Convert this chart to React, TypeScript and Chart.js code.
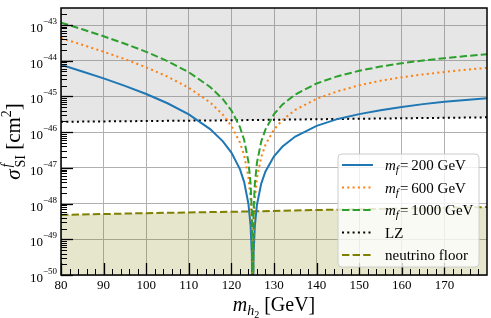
import React, { useEffect, useRef } from 'react';
import { Chart, registerables } from 'chart.js';

Chart.register(...registerables);

// ---- data ----
const masses = [80, 85, 90, 95, 100, 105, 110, 115, 118, 120, 122, 123, 124, 124.5, 124.8, 125, 125.2, 125.5, 126, 127, 128, 130, 132, 135, 140, 145, 150, 155, 160, 165, 170, 175, 180];
const sigma200 = [7.70e-45, 5.01e-45, 3.20e-45, 1.98e-45, 1.17e-45, 6.45e-46, 3.14e-46, 1.22e-46, 5.54e-47, 2.68e-47, 9.21e-48, 3.99e-48, 9.77e-49, 2.40e-49, 3.80e-50, 1e-52, 3.76e-50, 2.34e-49, 9.27e-49, 3.62e-48, 7.95e-48, 2.11e-47, 3.95e-47, 7.55e-47, 1.50e-46, 2.35e-46, 3.20e-46, 4.10e-46, 5.10e-46, 6.10e-46, 7.10e-46, 8.00e-46, 8.90e-46];
const sigma600 = [4.30e-44, 2.80e-44, 1.79e-44, 1.11e-44, 6.54e-45, 3.60e-45, 1.75e-45, 6.81e-46, 3.09e-46, 1.49e-46, 5.14e-47, 2.23e-47, 5.45e-48, 1.34e-48, 2.12e-49, 1e-52, 2.10e-49, 1.31e-48, 5.17e-48, 2.02e-47, 4.44e-47, 1.18e-46, 2.21e-46, 4.21e-46, 8.60e-46, 1.40e-45, 2.05e-45, 2.75e-45, 3.45e-45, 4.15e-45, 4.85e-45, 5.60e-45, 6.30e-45];
const sigma1000 = [1.17e-43, 7.59e-44, 4.84e-44, 3.00e-44, 1.78e-44, 9.77e-45, 4.76e-45, 1.85e-45, 8.38e-46, 4.06e-46, 1.39e-46, 6.04e-47, 1.48e-47, 3.63e-48, 5.75e-49, 1e-52, 5.70e-49, 3.55e-48, 1.40e-47, 5.48e-47, 1.20e-46, 3.19e-46, 5.99e-46, 1.14e-45, 2.31e-45, 3.70e-45, 5.24e-45, 6.86e-45, 8.52e-45, 1.02e-44, 1.18e-44, 1.35e-44, 1.52e-44];
const lzMass = [80, 100, 120, 140, 160, 180];
const lzLimit = [1.95e-46, 2.05e-46, 2.15e-46, 2.3e-46, 2.45e-46, 2.6e-46];
const nuMass = [80, 100, 120, 140, 160, 180];
const nuFloor = [4.8e-49, 5.4e-49, 5.9e-49, 6.6e-49, 7.3e-49, 8.0e-49];
const xTicks = [80, 90, 100, 110, 120, 130, 140, 150, 160, 170];
const yTickExps = [-50, -49, -48, -47, -46, -45, -44, -43];
const mfLabels = ['200 GeV', '600 GeV', '1000 GeV'];
const otherLabels = ['LZ', 'neutrino floor'];

const X_MIN = 80, X_MAX = 180, Y_MIN = 1e-50, Y_MAX = 3e-43;

const SERIF = '"Liberation Serif", "DejaVu Serif", serif';
const f = (size: number, italic = false) => `${italic ? 'italic ' : ''}${size}px ${SERIF}`;

type Seg = { t: string; font: string; dy?: number; adv?: number; dx?: number };

function segsWidth(ctx: CanvasRenderingContext2D, segs: Seg[]) {
  let w = 0;
  for (const s of segs) {
    ctx.font = s.font;
    w += (s.dx || 0) + (s.adv !== undefined ? s.adv : ctx.measureText(s.t).width);
  }
  return w;
}
function drawSegs(ctx: CanvasRenderingContext2D, segs: Seg[], x: number, y: number) {
  let cx = x;
  for (const s of segs) {
    ctx.font = s.font;
    cx += s.dx || 0;
    ctx.fillText(s.t, cx, y + (s.dy || 0));
    cx += s.adv !== undefined ? s.adv : ctx.measureText(s.t).width;
  }
}

const decoPlugin = {
  id: 'deco',
  afterDraw(chart: any) {
    const { ctx, chartArea: a, scales } = chart;
    const xs = scales.x, ys = scales.y;
    ctx.save();
    ctx.fillStyle = '#000';
    ctx.strokeStyle = '#000';
    ctx.textBaseline = 'alphabetic';

    // spines
    ctx.lineWidth = 1.5;
    ctx.strokeRect(a.left, a.top, a.right - a.left, a.bottom - a.top);

    // x ticks (inward)
    for (const v of xTicks) {
      const px = Math.round(xs.getPixelForValue(v)) + 0.5;
      ctx.lineWidth = 1.3;
      ctx.beginPath(); ctx.moveTo(px, a.bottom); ctx.lineTo(px, a.bottom - 12); ctx.stroke();
    }
    for (let v = X_MIN + 2; v < X_MAX; v += 2) {
      if (v % 10 === 0) continue;
      const px = Math.round(xs.getPixelForValue(v)) + 0.5;
      ctx.lineWidth = 1;
      ctx.beginPath(); ctx.moveTo(px, a.bottom); ctx.lineTo(px, a.bottom - 6); ctx.stroke();
    }
    // y ticks
    for (const e of yTickExps) {
      const py = Math.round(ys.getPixelForValue(Math.pow(10, e))) + 0.5;
      ctx.lineWidth = 1.3;
      ctx.beginPath(); ctx.moveTo(a.left, py); ctx.lineTo(a.left + 12, py); ctx.stroke();
      for (let k = 2; k <= 9; k++) {
        const v = k * Math.pow(10, e);
        if (v > Y_MAX) break;
        const pm = Math.round(ys.getPixelForValue(v)) + 0.5;
        ctx.lineWidth = 1;
        ctx.beginPath(); ctx.moveTo(a.left, pm); ctx.lineTo(a.left + 6, pm); ctx.stroke();
      }
    }

    // x tick labels
    ctx.font = f(13);
    ctx.textAlign = 'center';
    for (const v of xTicks) {
      ctx.fillText(String(v), xs.getPixelForValue(v), a.bottom + 14);
    }
    // y tick labels
    ctx.textAlign = 'left';
    for (const e of yTickExps) {
      const py = ys.getPixelForValue(Math.pow(10, e));
      const segs: Seg[] = [
        { t: '10', font: f(13) },
        { t: '\u2212' + Math.abs(e), font: f(9), dy: -8 },
      ];
      const w = segsWidth(ctx, segs);
      drawSegs(ctx, segs, a.left - 4 - w, py + 7);
    }

    // x title
    const xt: Seg[] = [
      { t: 'm', font: f(20, true) },
      { t: 'h', font: f(14, true), dy: 4 },
      { t: '2', font: f(10), dy: 7 },
      { t: ' [GeV]', font: f(20) },
    ];
    const xw = segsWidth(ctx, xt);
    drawSegs(ctx, xt, (a.left + a.right) / 2 - xw / 2, 311);

    // y title (rotated)
    ctx.save();
    ctx.translate(20, (a.top + a.bottom) / 2);
    ctx.rotate(-Math.PI / 2);
    ctx.font = f(14);
    const siW = ctx.measureText('SI').width;
    const yt: Seg[] = [
      { t: '\u03C3', font: f(21, true) },
      { t: 'f', font: f(14, true), dy: -9, adv: 0, dx: 2 },
      { t: 'SI', font: f(14), dy: 5, adv: siW },
      { t: ' [cm', font: f(21) },
      { t: '2', font: f(14), dy: -9 },
      { t: ']', font: f(21) },
    ];
    const yw = segsWidth(ctx, yt);
    drawSegs(ctx, yt, -yw / 2, 0);
    ctx.restore();

    // legend
    const bx = 338, by = 154, bw = 141, bh = 113, r = 4;
    ctx.beginPath();
    ctx.moveTo(bx + r, by);
    ctx.arcTo(bx + bw, by, bx + bw, by + bh, r);
    ctx.arcTo(bx + bw, by + bh, bx, by + bh, r);
    ctx.arcTo(bx, by + bh, bx, by, r);
    ctx.arcTo(bx, by, bx + bw, by, r);
    ctx.closePath();
    ctx.fillStyle = 'rgba(255,255,255,0.8)';
    ctx.fill();
    ctx.strokeStyle = '#cccccc';
    ctx.lineWidth = 1;
    ctx.stroke();

    const ds = chart.data.datasets;
    const rowY = [165, 187.5, 210, 232.5, 255];
    for (let i = 0; i < 5; i++) {
      const d = ds[i];
      const y = rowY[i];
      ctx.strokeStyle = d.borderColor;
      ctx.lineWidth = d.borderWidth;
      ctx.setLineDash(d.borderDash || []);
      ctx.beginPath(); ctx.moveTo(342, y); ctx.lineTo(373, y); ctx.stroke();
      ctx.setLineDash([]);
      ctx.fillStyle = '#000';
      let segs: Seg[];
      if (i < 3) {
        segs = [
          { t: 'm', font: f(15, true) },
          { t: 'f', font: f(11, true), dy: 3 },
          { t: '=\u2009' + mfLabels[i], font: f(15), dx: 1 },
        ];
      } else {
        segs = [{ t: otherLabels[i - 3], font: f(15) }];
      }
      drawSegs(ctx, segs, 385, y + 5);
    }
    ctx.restore();
  },
};

export default function App() {
  const ref = useRef<HTMLCanvasElement | null>(null);
  useEffect(() => {
    if (!ref.current) return;
    const pts = (xsArr: number[], ysArr: number[]) => xsArr.map((x, i) => ({ x, y: ysArr[i] }));
    const chart = new Chart(ref.current, {
      type: 'line',
      data: {
        datasets: [
          { label: 'mf=200', data: pts(masses, sigma200), borderColor: '#1f77b4', borderWidth: 2, pointRadius: 0, fill: false, order: 3, tension: 0 },
          { label: 'mf=600', data: pts(masses, sigma600), borderColor: '#ff7f0e', borderWidth: 2, borderDash: [2, 3.3], pointRadius: 0, fill: false, order: 2, tension: 0 },
          { label: 'mf=1000', data: pts(masses, sigma1000), borderColor: '#2ca02c', borderWidth: 2, borderDash: [7.4, 3.2], pointRadius: 0, fill: false, order: 1, tension: 0 },
          { label: 'LZ', data: pts(lzMass, lzLimit), borderColor: '#000000', borderWidth: 2, borderDash: [2, 3.3], pointRadius: 0, fill: 'end', backgroundColor: 'rgba(128,128,128,0.2)', order: 4, tension: 0 },
          { label: 'nu', data: pts(nuMass, nuFloor), borderColor: '#808000', borderWidth: 2, borderDash: [7.4, 3.2], pointRadius: 0, fill: 'start', backgroundColor: 'rgba(128,128,0,0.2)', order: 5, tension: 0 },
        ] as any,
      },
      options: {
        responsive: false,
        animation: false,
        devicePixelRatio: 1,
        layout: { padding: { left: 61, right: 4, top: 8, bottom: 43 } },
        plugins: { legend: { display: false }, tooltip: { enabled: false } },
        scales: {
          x: {
            type: 'linear', min: X_MIN, max: X_MAX,
            ticks: { display: false },
            grid: { color: '#b0b0b0', lineWidth: 1, drawTicks: false },
            border: { display: false },
            afterBuildTicks: (s: any) => { s.ticks = xTicks.map((v) => ({ value: v })); },
          },
          y: {
            type: 'logarithmic', min: Y_MIN, max: Y_MAX,
            ticks: { display: false },
            grid: { color: '#b0b0b0', lineWidth: 1, drawTicks: false },
            border: { display: false },
            afterBuildTicks: (s: any) => { s.ticks = yTickExps.map((e) => ({ value: Math.pow(10, e) })); },
          },
        },
      } as any,
      plugins: [decoPlugin],
    });
    return () => chart.destroy();
  }, []);
  return (
    <canvas ref={ref} width={491} height={318} style={{ position: 'absolute', left: 0, top: 0, display: 'block' }} />
  );
}
